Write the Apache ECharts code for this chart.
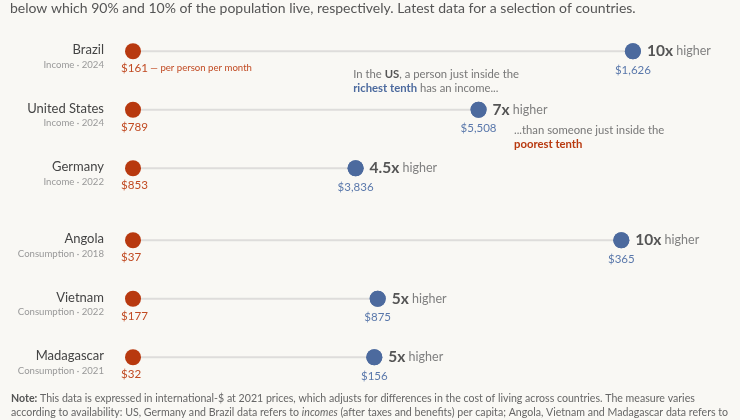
<!DOCTYPE html>
<html>
<head>
<meta charset="utf-8">
<script src="https://cdn.jsdelivr.net/npm/echarts@6/dist/echarts.min.js"></script>
<style>
  html, body { margin: 0; padding: 0; background: #f9f8f4; }
  #chart { width: 740px; height: 420px; }
</style>
</head>
<body>
<div id="chart"></div>
<script>
// rows, top to bottom
var countries = ["Brazil", "United States", "Germany", "Angola", "Vietnam", "Madagascar"];
var measures = ["Income · 2024", "Income · 2024", "Income · 2022", "Consumption · 2018", "Consumption · 2022", "Consumption · 2021"];
// monthly $ per person at the 10th and 90th percentiles
var poorest = [161, 789, 853, 37, 177, 32];
var richest = [1626, 5508, 3836, 365, 875, 156];
var ratioLabels = ["10x", "7x", "4.5x", "10x", "5x", "5x"];

var RED = "#b8390f";
var BLUE = "#4c6a9e";
var FONT = "Lato, 'Noto Sans', sans-serif";

function money(v) {
  return "$" + v.toLocaleString("en-US");
}

var groups = [[0, 1, 2], [3, 4, 5]];
var gridTops = [22, 211];

var option = {
  backgroundColor: "#f9f8f4",
  animation: false,
  textStyle: { fontFamily: FONT },
  grid: [],
  xAxis: [],
  yAxis: [],
  series: [],
  graphic: [
    {
      type: "text", left: 10, top: 1,
      style: {
        text: "below which 90% and 10% of the population live, respectively. Latest data for a selection of countries.",
        fontFamily: FONT, fontSize: 14, fill: "#555"
      }
    },
    {
      type: "text", right: 221, top: 67,
      style: {
        text: "In the {b|US}, a person just inside the\n{bl|richest tenth} has an income...",
        align: "right", fontFamily: FONT, fontSize: 11.3, lineHeight: 14.5, fill: "#777",
        rich: {
          b: { fontFamily: FONT, fontSize: 11.3, fontWeight: "bold", fill: "#555" },
          bl: { fontFamily: FONT, fontSize: 11.3, fontWeight: "bold", fill: BLUE }
        }
      }
    },
    {
      type: "text", left: 514, top: 123,
      style: {
        text: "...than someone just inside the\n{r|poorest tenth}",
        fontFamily: FONT, fontSize: 11.3, lineHeight: 14.5, fill: "#777",
        rich: {
          r: { fontFamily: FONT, fontSize: 11.3, fontWeight: "bold", fill: RED }
        }
      }
    },
    {
      type: "text", left: 11, top: 392,
      style: {
        text: "{b|Note:} This data is expressed in international-$ at 2021 prices, which adjusts for differences in the cost of living across countries. The measure varies\naccording to availability: US, Germany and Brazil data refers to {i|incomes} (after taxes and benefits) per capita; Angola, Vietnam and Madagascar data refers to",
        fontFamily: FONT, fontSize: 10.6, lineHeight: 14, fill: "#666",
        rich: {
          b: { fontFamily: FONT, fontSize: 10.6, fontWeight: "bold", fill: "#555" },
          i: { fontFamily: FONT, fontSize: 10.6, fontStyle: "italic", fill: "#666" }
        }
      }
    }
  ]
};

groups.forEach(function (rows, g) {
  option.grid.push({ left: 133, width: 594, top: gridTops[g], height: 175.5 });
  option.xAxis.push({
    type: "value", gridIndex: g, min: 0, max: 12,
    show: false
  });
  option.yAxis.push({
    type: "category", gridIndex: g, inverse: true,
    data: rows.map(function (i) { return countries[i]; }),
    axisLine: { show: false }, axisTick: { show: false }, splitLine: { show: false },
    axisLabel: {
      margin: 29,
      padding: [11, 0, 0, 0],
      formatter: function (val, idx) {
        return "{n|" + val + "}\n{s|" + measures[rows[idx]] + "}";
      },
      rich: {
        n: { fontFamily: FONT, fontSize: 13, color: "#444", lineHeight: 16, align: "right" },
        s: { fontFamily: FONT, fontSize: 9.6, color: "#999", lineHeight: 13, align: "right" }
      }
    }
  });

  // connector line from the poorest dot (0) to the richest dot (ratio)
  option.series.push({
    type: "bar", xAxisIndex: g, yAxisIndex: g,
    barWidth: 2, silent: true,
    itemStyle: { color: "#dedddb" },
    data: rows.map(function (i) { return richest[i] / poorest[i]; })
  });

  // poorest tenth
  option.series.push({
    type: "scatter", xAxisIndex: g, yAxisIndex: g,
    symbolSize: 16, itemStyle: { color: RED, opacity: 1 },
    data: rows.map(function (i, k) { return { value: [0, k], idx: i }; }),
    label: {
      show: true, position: [-4, 25], align: "left", verticalAlign: "middle",
      formatter: function (p) {
        var i = p.data.idx;
        return "{v|" + money(poorest[i]) + "}" + (i === 0 ? "{s| — per person per month}" : "");
      },
      rich: {
        v: { fontFamily: FONT, fontSize: 11.6, color: "#c14a22" },
        s: { fontFamily: FONT, fontSize: 9.6, color: "#c14a22" }
      }
    }
  });

  // richest tenth: dot + value below
  option.series.push({
    type: "scatter", xAxisIndex: g, yAxisIndex: g,
    symbolSize: 16, itemStyle: { color: BLUE, opacity: 1 },
    data: rows.map(function (i, k) { return { value: [richest[i] / poorest[i], k], idx: i }; }),
    label: {
      show: true, position: "bottom", distance: 5,
      fontFamily: FONT, fontSize: 11.5, color: "#5a78ab",
      formatter: function (p) { return money(richest[p.data.idx]); }
    }
  });

  // richest tenth: "Nx higher"
  option.series.push({
    type: "scatter", xAxisIndex: g, yAxisIndex: g,
    symbolSize: 16, itemStyle: { color: BLUE, opacity: 1 },
    data: rows.map(function (i, k) { return { value: [richest[i] / poorest[i], k], idx: i }; }),
    label: {
      show: true, position: "right", distance: 6,
      formatter: function (p) {
        return "{r|" + ratioLabels[p.data.idx] + "}{h| higher}";
      },
      rich: {
        r: { fontFamily: FONT, fontSize: 15.5, fontWeight: "bold", color: "#555" },
        h: { fontFamily: FONT, fontSize: 12.5, color: "#808080" }
      }
    }
  });
});

var chart = echarts.init(document.getElementById("chart"));
chart.setOption(option);
</script>
</body>
</html>
